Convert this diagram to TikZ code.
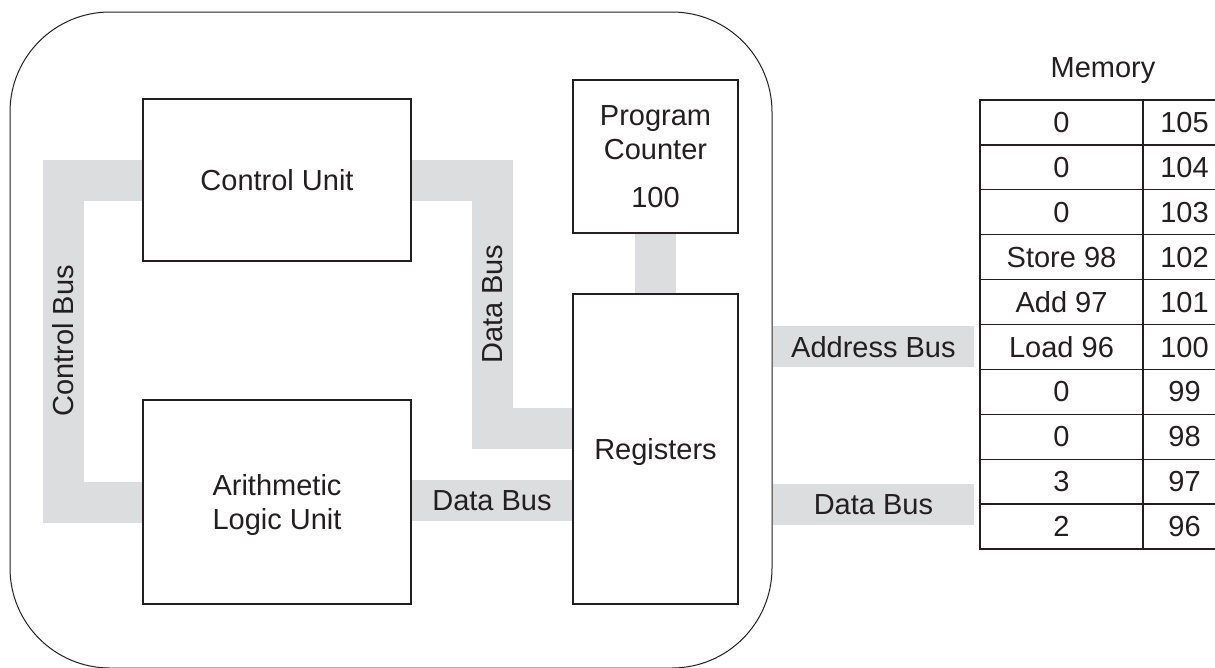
\documentclass[tikz,border=0pt]{standalone}
\usepackage{fontspec}
\setmainfont{Liberation Sans}
\usetikzlibrary{backgrounds}
\definecolor{ink}{RGB}{35,31,32}
\definecolor{busgray}{RGB}{220,221,222}
\begin{document}
\begin{tikzpicture}[x=1pt,y=-1pt,
  every node/.style={font=\fontsize{29}{34}\selectfont, text=ink, text depth=0pt},
  box/.style={draw=ink, line width=1.5pt, fill=white, align=center, inner sep=0pt},
  outerbox/.style={draw=ink, line width=1pt, rounded corners=100pt, inner sep=0pt},
  bus/.style={draw=busgray, line width=41pt, line join=miter, line cap=butt},
  cell/.style={draw=ink, line width=1.3pt, inner sep=0pt, minimum height=44.9pt},
  lbl/.style={inner sep=0pt},
]
\useasboundingbox (0,0) rectangle (1215,667);

% outer CPU outline
\node[outerbox, minimum width=762pt, minimum height=656pt] (cpu) at (391,340) {};

% units
\node[box, minimum width=268pt, minimum height=162pt] (cu) at (277,180) {Control Unit};
\node[box, minimum width=268pt, minimum height=204pt] (alu) at (277,502) {Arithmetic\\Logic Unit};
\node[box, minimum width=165pt, minimum height=153pt] (pc) at (655.5,156.5) {Program\\Counter\\[14pt]100};
\node[box, minimum width=165pt, minimum height=310pt] (reg) at (655.5,449) {Registers};

% memory
\node[lbl] (memlbl) at (1103,68) {Memory};
\foreach \v/\a [count=\i] in {0/105,0/104,0/103,Store 98/102,Add 97/101,Load 96/100,0/99,0/98,3/97,2/96}{
  \node[cell, minimum width=163pt] (m\i) at (1061.5,{100+(\i-0.5)*44.9}) {\v};
  \node[cell, minimum width=83pt] (a\i) at (1184.5,{100+(\i-0.5)*44.9}) {\a};
}

% buses
\begin{scope}[on background layer]
  \draw[bus] (cu.west) -- ++(-79,0) coordinate (c1)
     -- node[lbl, rotate=90] {Control Bus} (c1 |- alu.west) -- (alu.west);
  \coordinate (r1) at ([yshift=20.5pt]reg.west);
  \draw[bus] (cu.east) -- ++(80.5,0) coordinate (d1)
     -- node[lbl, rotate=90] {Data Bus} (d1 |- r1) -- (r1);
  \draw[bus] ([yshift=1.5pt]alu.east) -- node[lbl] {Data Bus} ([yshift=1.5pt]alu.east -| reg.west);
  \draw[bus] (pc.south) -- (reg.north);
  \draw[bus] (cpu.east |- m6.west) -- node[lbl] {Address Bus} ([xshift=-5pt]m6.west);
  \draw[bus] (cpu.east |- m9.south west) -- node[lbl] {Data Bus} ([xshift=-5pt]m9.south west);
\end{scope}
\end{tikzpicture}
\end{document}
